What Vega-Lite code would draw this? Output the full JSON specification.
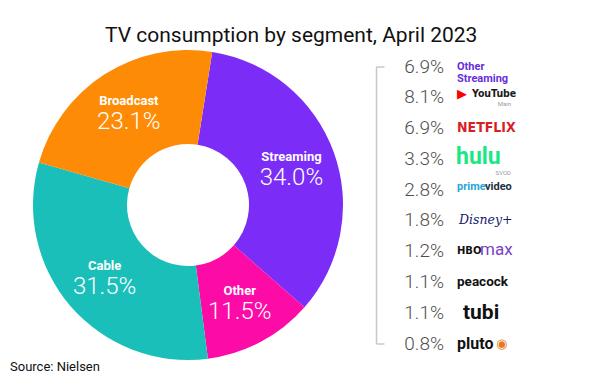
{
  "$schema": "https://vega.github.io/schema/vega-lite/v6.json",
  "padding": {"left": 10, "top": 25, "right": 0, "bottom": 6},
  "background": "white",
  "title": {"text": "TV consumption by segment, April 2023", "anchor": "start", "dx": 95, "fontSize": 21, "font": "Roboto", "fontWeight": "normal", "color": "#111111", "offset": 4},
  "bounds": "flush",
  "center": true,
  "spacing": 10,
  "datasets": {
    "segments": [
      {"segment": "Streaming", "share": 0.340, "rank": 1},
      {"segment": "Other", "share": 0.115, "rank": 2},
      {"segment": "Cable", "share": 0.315, "rank": 3},
      {"segment": "Broadcast", "share": 0.231, "rank": 4}
    ],
    "services": [
      {"service": "Other Streaming", "share": 0.069, "rank": 1},
      {"service": "YouTube", "share": 0.081, "rank": 2},
      {"service": "Netflix", "share": 0.069, "rank": 3},
      {"service": "Hulu", "share": 0.033, "rank": 4},
      {"service": "Prime Video", "share": 0.028, "rank": 5},
      {"service": "Disney+", "share": 0.018, "rank": 6},
      {"service": "HBO Max", "share": 0.012, "rank": 7},
      {"service": "Peacock", "share": 0.011, "rank": 8},
      {"service": "Tubi", "share": 0.011, "rank": 9},
      {"service": "Pluto TV", "share": 0.008, "rank": 10}
    ]
  },
  "hconcat": [
    {
      "width": 356,
      "height": 310,
      "data": {"name": "segments"},
      "title": {"text": "Source: Nielsen", "orient": "bottom", "anchor": "start", "fontSize": 13, "fontWeight": "normal", "font": "Roboto", "color": "#111111", "offset": 1},
      "encoding": {
        "theta": {"field": "share", "type": "quantitative", "stack": true, "scale": {"range": [0.157, 6.44]}},
        "order": {"field": "rank", "type": "quantitative"}
      },
      "layer": [
        {
          "mark": {"type": "arc", "outerRadius": 155, "innerRadius": 61},
          "encoding": {
            "color": {"field": "segment", "type": "nominal", "legend": null,
              "scale": {"domain": ["Streaming", "Other", "Cable", "Broadcast"], "range": ["#7b2cf6", "#fc0ba6", "#1bbfba", "#fd8b06"]}}
          }
        },
        {
          "mark": {"type": "text", "radius": 110, "dy": -11, "font": "Roboto", "fontWeight": "bold", "fontSize": 13, "color": "white"},
          "encoding": {"text": {"field": "segment"}}
        },
        {
          "mark": {"type": "text", "radius": 110, "dy": 10, "font": "Roboto", "fontWeight": 300, "fontSize": 24, "color": "white"},
          "encoding": {"text": {"field": "share", "format": ".1%"}}
        }
      ]
    },
    {
      "width": 148,
      "height": 277,
      "data": {"name": "services"},
      "encoding": {
        "y": {"field": "service", "type": "nominal",
          "scale": {"type": "point", "padding": 0, "domain": ["Other Streaming", "YouTube", "Netflix", "Hulu", "Prime Video", "Disney+", "HBO Max", "Peacock", "Tubi", "Pluto TV"]},
          "axis": {"title": null, "labels": false, "grid": false, "domainColor": "#c8c8c8", "domainWidth": 1.5, "tickSize": -8, "tickColor": "#c8c8c8", "tickWidth": 1.5,
            "tickOpacity": {"condition": {"test": "datum.value === 'Other Streaming' || datum.value === 'Pluto TV'", "value": 1}, "value": 0},
            "minExtent": 0, "maxExtent": 0}}
      },
      "layer": [
        {
          "mark": {"type": "text", "align": "right", "dx": -6, "font": "Roboto", "fontSize": 19, "fontWeight": 300, "color": "#4f4f4f"},
          "encoding": {"text": {"field": "share", "format": ".1%"}}
        },
        {
          "transform": [{"filter": "datum.service === 'Other Streaming'"}],
          "mark": {"type": "text", "align": "left", "dx": 7, "font": "Roboto", "fontWeight": "bold", "fontSize": 11, "lineBreak": " ", "lineHeight": 12, "color": "#6a2ddb"},
          "encoding": {"text": {"field": "service"}}
        },
        {
          "transform": [{"filter": "datum.service === 'YouTube'"}],
          "mark": {"type": "text", "align": "left", "dx": 7, "dy": -3, "font": "DejaVu Sans", "fontSize": 13, "color": "#ff0000", "text": "▶"}
        },
        {
          "transform": [{"filter": "datum.service === 'YouTube'"}],
          "mark": {"type": "text", "align": "left", "dx": 22, "dy": -3, "font": "DejaVu Sans Condensed", "fontWeight": "bold", "fontSize": 10.5, "color": "#1a1a1a", "text": "YouTube"}
        },
        {
          "transform": [{"filter": "datum.service === 'YouTube'"}],
          "mark": {"type": "text", "align": "right", "dx": 61, "dy": 7, "font": "Roboto", "fontSize": 6, "color": "#9a9a9a", "text": "Main"}
        },
        {
          "transform": [{"filter": "datum.service === 'Netflix'"}],
          "mark": {"type": "text", "align": "left", "dx": 7, "font": "DejaVu Sans Condensed", "fontWeight": "bold", "fontSize": 14, "color": "#d81f26", "text": "NETFLIX"}
        },
        {
          "transform": [{"filter": "datum.service === 'Hulu'"}],
          "mark": {"type": "text", "align": "left", "dx": 6, "dy": -2, "font": "Roboto", "fontWeight": "bold", "fontSize": 23, "color": "#1ce783", "text": "hulu"}
        },
        {
          "transform": [{"filter": "datum.service === 'Hulu'"}],
          "mark": {"type": "text", "align": "right", "dx": 61, "dy": 14, "font": "Roboto", "fontSize": 6, "color": "#9a9a9a", "text": "SVOD"}
        },
        {
          "transform": [{"filter": "datum.service === 'Prime Video'"}],
          "mark": {"type": "text", "align": "left", "dx": 7, "dy": -3, "font": "Roboto", "fontWeight": "bold", "fontSize": 11, "color": "#2aa3d8", "text": "prime"}
        },
        {
          "transform": [{"filter": "datum.service === 'Prime Video'"}],
          "mark": {"type": "text", "align": "left", "dx": 35, "dy": -3, "font": "Roboto", "fontWeight": "bold", "fontSize": 11, "color": "#232f3e", "text": "video"}
        },
        {
          "transform": [{"filter": "datum.service === 'Disney+'"}],
          "mark": {"type": "text", "align": "left", "dx": 9, "font": "DejaVu Serif", "fontStyle": "italic", "fontSize": 12.5, "color": "#13246b", "text": "Disney+"}
        },
        {
          "transform": [{"filter": "datum.service === 'HBO Max'"}],
          "mark": {"type": "text", "align": "left", "dx": 7, "font": "DejaVu Sans", "fontWeight": "bold", "fontSize": 10, "color": "#111111", "text": "HBO"}
        },
        {
          "transform": [{"filter": "datum.service === 'HBO Max'"}],
          "mark": {"type": "text", "align": "left", "dx": 30, "dy": -1, "font": "Roboto", "fontSize": 17, "color": "#7b3fc4", "text": "max"}
        },
        {
          "transform": [{"filter": "datum.service === 'Peacock'"}],
          "mark": {"type": "text", "align": "left", "dx": 7, "font": "Roboto", "fontWeight": "bold", "fontSize": 13.5, "color": "#111111", "text": "peacock"}
        },
        {
          "transform": [{"filter": "datum.service === 'Tubi'"}],
          "mark": {"type": "text", "align": "left", "dx": 13, "font": "Roboto", "fontWeight": "bold", "fontSize": 21, "color": "#111111", "text": "tubi"}
        },
        {
          "transform": [{"filter": "datum.service === 'Pluto TV'"}],
          "mark": {"type": "text", "align": "left", "dx": 7, "font": "Roboto", "fontWeight": "bold", "fontSize": 16, "color": "#111111", "text": "pluto"}
        },
        {
          "transform": [{"filter": "datum.service === 'Pluto TV'"}],
          "mark": {"type": "text", "align": "left", "dx": 46, "font": "DejaVu Sans", "fontSize": 13, "color": "#e57a1f", "text": "◉"}
        }
      ]
    }
  ],
  "config": {"view": {"stroke": null}}
}
